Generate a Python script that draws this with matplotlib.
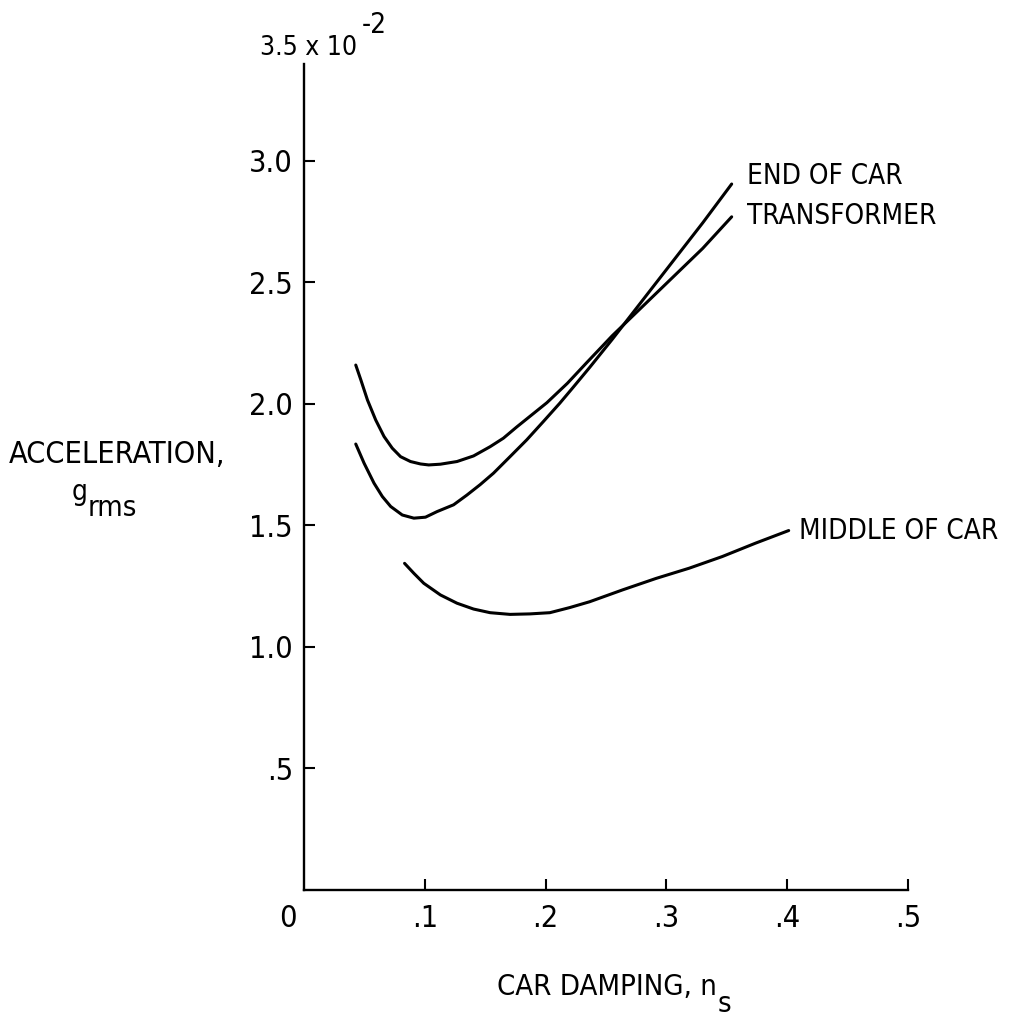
import matplotlib
matplotlib.use("Agg")
import matplotlib.pyplot as plt

# ---- data ----
end_x = [0.0428, 0.0497, 0.0579, 0.0648, 0.0717, 0.0813, 0.0909, 0.1005, 0.1101,
         0.1238, 0.1348, 0.1458, 0.1568, 0.1705, 0.1843, 0.1980, 0.2117, 0.2227,
         0.2364, 0.255, 0.280, 0.305, 0.330, 0.354]
end_y = [1.835, 1.756, 1.674, 1.619, 1.578, 1.543, 1.530, 1.534, 1.557,
         1.585, 1.625, 1.668, 1.715, 1.783, 1.852, 1.927, 2.003, 2.068,
         2.150, 2.265, 2.425, 2.585, 2.745, 2.905]

trans_x = [0.0428, 0.0470, 0.0525, 0.0593, 0.0662, 0.0730, 0.0799, 0.0881, 0.0964,
           0.1032, 0.1128, 0.1266, 0.1403, 0.1540, 0.1650, 0.1760, 0.201, 0.218,
           0.234, 0.255, 0.280, 0.305, 0.330, 0.354]
trans_y = [2.160, 2.099, 2.016, 1.934, 1.866, 1.818, 1.783, 1.763, 1.753,
           1.749, 1.752, 1.763, 1.786, 1.824, 1.859, 1.905, 2.005, 2.085,
           2.17, 2.28, 2.40, 2.52, 2.64, 2.77]

mid_x = [0.0832, 0.0909, 0.0991, 0.1129, 0.1266, 0.1403, 0.1540, 0.1705, 0.1870,
         0.2035, 0.2199, 0.2364, 0.2638, 0.2914, 0.3188, 0.3462, 0.3737, 0.4012]
mid_y = [1.344, 1.303, 1.262, 1.214, 1.180, 1.156, 1.141, 1.134, 1.136,
         1.141, 1.162, 1.186, 1.235, 1.282, 1.324, 1.372, 1.427, 1.479]

x_ticks = [0.1, 0.2, 0.3, 0.4, 0.5]
x_ticklabels = [".1", ".2", ".3", ".4", ".5"]
y_ticks = [0.5, 1.0, 1.5, 2.0, 2.5, 3.0]
y_ticklabels = [".5", "1.0", "1.5", "2.0", "2.5", "3.0"]

series_labels = ["END OF CAR", "TRANSFORMER", "MIDDLE OF CAR"]

plt.rcParams['font.family'] = ['DejaVu Sans']
plt.rcParams['font.stretch'] = 'condensed'

fig = plt.figure(figsize=(10.19, 10.24), dpi=100)
ax = fig.add_axes([0.2984, 0.1309, 0.5927, 0.8306])

lw = 2.2
for xs, ys in [(end_x, end_y), (trans_x, trans_y), (mid_x, mid_y)]:
    ax.plot(xs, ys, color='black', lw=lw, solid_capstyle='round',
            solid_joinstyle='round')

ax.set_xlim(0, 0.5)
ax.set_ylim(0, 3.5)

for s in ['top', 'right']:
    ax.spines[s].set_visible(False)
ax.spines['left'].set_bounds(0, 3.4)
ax.spines['left'].set_linewidth(1.7)
ax.spines['bottom'].set_linewidth(1.7)

ax.set_xticks(x_ticks)
ax.set_xticklabels(x_ticklabels)
ax.set_yticks(y_ticks)
ax.set_yticklabels(y_ticklabels)
ax.tick_params(axis='x', direction='in', length=8, width=1.5, pad=10, labelsize=22)
ax.tick_params(axis='y', direction='in', length=8, width=1.5, pad=8, labelsize=22)

# origin label
ax.annotate("0", xy=(0, 0), xycoords='data', xytext=(-11.5, -10),
            textcoords='offset points', ha='center', va='top', fontsize=22)

# series labels
fs = 20
ax.text(0.3666, 2.938, series_labels[0], fontsize=fs, ha='left', va='center')
ax.text(0.3666, 2.774, series_labels[1], fontsize=fs, ha='left', va='center')
ax.text(0.4094, 1.477, series_labels[2], fontsize=fs, ha='left', va='center')

# scale label at top of y axis
t_sc = fig.text(260 / 1019, 1 - 55 / 1024, "3.5 x 10", fontsize=19,
                ha='left', va='baseline')
ax.annotate("-2", xy=(1, 1), xycoords=t_sc, xytext=(3, 7),
            textcoords='offset points', ha='left', va='center', fontsize=20)

# y-axis label
fig.text(117 / 1019, 1 - 463 / 1024, "ACCELERATION,", fontsize=22,
         ha='center', va='baseline')
t_g = fig.text(72 / 1019, 1 - 500 / 1024, "g", fontsize=20,
               ha='left', va='baseline')
ax.annotate("rms", xy=(1, 0), xycoords=t_g, xytext=(0, -7),
            textcoords='offset points', ha='left', va='baseline', fontsize=21)

# x-axis label
t_x = fig.text(497 / 1019, 1 - 995 / 1024, "CAR DAMPING, n", fontsize=21,
               ha='left', va='baseline')
ax.annotate("s", xy=(1, 0), xycoords=t_x, xytext=(0.5, -8),
            textcoords='offset points', ha='left', va='baseline', fontsize=21)

fig.savefig("out.png", dpi=100)
